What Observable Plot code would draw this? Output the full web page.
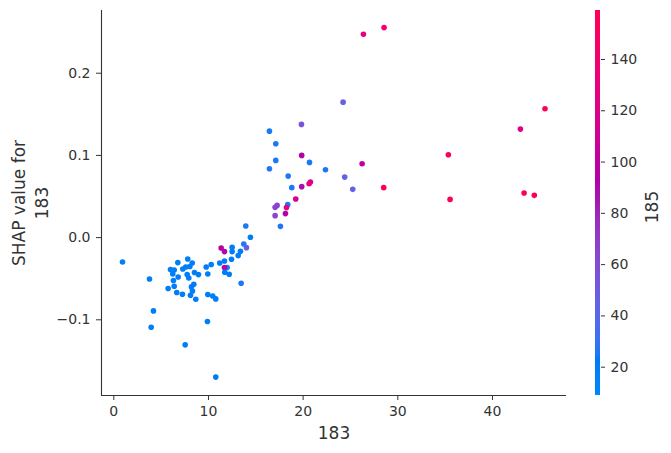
<!DOCTYPE html>
<html>
<head>
<meta charset="utf-8">
<script src="https://cdn.jsdelivr.net/npm/d3@7"></script>
<script src="https://cdn.jsdelivr.net/npm/@observablehq/plot@0.6"></script>
<style>
  html, body { margin: 0; padding: 0; background: #fff; }
  #wrap { position: relative; width: 671px; height: 453px; overflow: hidden; }
  #main, #bar { position: absolute; top: 0; }
  #main { left: 0; }
  #bar { left: 590px; }
</style>
</head>
<body>
<div id="wrap"><div id="main"></div><div id="bar"></div></div>
<script>
// Feature 183 value (x), SHAP value for 183 (y), feature 185 value (colour)
const x183 = [
  13.94, 14.43, 13.73, 14.01, 11.34, 11.69, 12.50, 12.50, 13.38, 13.14,
  12.43, 11.69, 11.19, 11.97, 11.69, 11.72, 12.19, 10.29, 9.76, 9.93,
  7.81, 8.28, 8.03, 7.60, 7.29, 6.76, 5.99, 6.38, 6.23, 6.80,
  7.75, 7.92, 8.52, 8.94, 6.30, 8.45, 8.20, 6.38, 5.74, 8.31,
  6.65, 7.25, 8.10, 8.66, 9.93, 10.45, 10.77, 13.45, 0.92, 3.77,
  4.19, 3.95, 9.89, 7.54, 10.77,
  24.22, 19.82, 16.44, 17.11, 17.11, 16.44, 19.85, 20.67, 22.36, 26.23,
  24.39, 25.24, 28.51, 18.42, 18.80, 19.85, 20.77, 20.63, 19.22, 18.37,
  18.24, 17.25, 17.04, 18.13, 17.04, 17.60,
  28.55, 26.37, 45.55, 42.95, 35.34, 35.52, 43.34, 44.42
];
const shap183 = [
  0.0141, 0.0004, -0.0078, -0.0122, -0.0126, -0.0170, -0.0118, -0.0170, -0.0166, -0.0219,
  -0.0264, -0.0284, -0.0309, -0.0365, -0.0365, -0.0422, -0.0446, -0.0328, -0.0357, -0.0442,
  -0.0260, -0.0309, -0.0352, -0.0357, -0.0382, -0.0304, -0.0389, -0.0394, -0.0442, -0.0479,
  -0.0450, -0.0491, -0.0425, -0.0450, -0.0522, -0.0567, -0.0600, -0.0592, -0.0620, -0.0649,
  -0.0668, -0.0689, -0.0701, -0.0750, -0.0693, -0.0710, -0.0746, -0.0555, -0.0296, -0.0503,
  -0.0892, -0.1090, -0.1020, -0.1305, -0.1697,
  0.1648, 0.1377, 0.1295, 0.1142, 0.0939, 0.0838, 0.1000, 0.0915, 0.0826, 0.0899,
  0.0736, 0.0587, 0.0608, 0.0748, 0.0608, 0.0620, 0.0676, 0.0656, 0.0469, 0.0401,
  0.0365, 0.0392, 0.0368, 0.0292, 0.0267, 0.0137,
  0.2555, 0.2474, 0.1567, 0.1320, 0.1008, 0.0465, 0.0542, 0.0514
];
const v185 = [
  25, 20, 25, 48, 95, 90, 20, 20, 20, 20,
  20, 20, 20, 25, 90, 20, 20, 20, 20, 20,
  20, 20, 20, 20, 20, 20, 20, 20, 20, 20,
  20, 20, 20, 20, 20, 20, 20, 20, 20, 20,
  20, 20, 20, 20, 20, 20, 20, 25, 18, 20,
  20, 20, 20, 20, 22,
  45, 55, 25, 25, 25, 25, 92, 25, 25, 100,
  45, 45, 152, 25, 25, 88, 125, 125, 115, 25,
  125, 65, 65, 95, 65, 25,
  140, 130, 155, 122, 150, 152, 152, 152
];
const xTicks = [0, 10, 20, 30, 40];
const yTicks = [-0.1, 0.0, 0.1, 0.2];
const cTicks = [20, 40, 60, 80, 100, 120, 140];
const xLabel = "183";
const yLabel = "SHAP value for\n183";
const cLabel = "185";

const points = x183.map((x, i) => ({x, y: shap183[i], c: v185[i]}));

const xDomain = [-1.3, 47.82];
const yDomain = [-0.1921, 0.2763];
const cDomain = [8.96, 159.1];

// SHAP red_blue colormap: LCH interpolation blue -> red through darker middle
const shapRedBlue = t => {
  const l = t < 0.5 ? 54 + (40 - 54) * (t / 0.5) : 40 + (54 - 40) * ((t - 0.5) / 0.5);
  const c = 70 + 20 * t;
  const h = 266.93 + 113.39 * t;
  return d3.hcl(h, c, l).formatRgb();
};
const colorScale = {type: "linear", domain: cDomain, interpolate: () => shapRedBlue, clamp: true};

const ink = "#333333";
const font = "DejaVu Sans, sans-serif";

const main = Plot.plot({
  width: 590,
  height: 453,
  marginLeft: 101,
  marginRight: 24,
  marginTop: 10,
  marginBottom: 58,
  style: {fontFamily: font, color: ink, background: "transparent"},
  x: {domain: xDomain},
  y: {domain: yDomain},
  color: colorScale,
  marks: [
    Plot.axisX({ticks: xTicks, tickSize: 5, tickPadding: 6, fontSize: 14, label: null, stroke: ink, fill: ink}),
    Plot.axisY({ticks: yTicks, tickSize: 5, tickPadding: 6, fontSize: 14, label: null, stroke: ink, fill: ink,
      tickFormat: d => d3.format(".1f")(d)}),
    Plot.ruleX([xDomain[0]], {stroke: ink, strokeWidth: 1.1}),
    Plot.ruleY([yDomain[0]], {stroke: ink, strokeWidth: 1.1}),
    Plot.dot(points, {x: "x", y: "y", fill: "c", r: 2.8, stroke: null}),
    Plot.text([xLabel], {text: d => d, frameAnchor: "bottom", textAnchor: "middle", lineAnchor: "top",
      dy: 31.7, fontSize: 17, fill: ink}),
    Plot.text([yLabel], {text: d => d, frameAnchor: "left", textAnchor: "middle", lineAnchor: "middle",
      rotate: -90, dx: -72.5, fontSize: 17, lineHeight: 1.35, fill: ink})
  ]
});
document.getElementById("main").appendChild(main);

// Colour bar
const ramp = d3.range(cDomain[0], cDomain[1], 0.5);
const bar = Plot.plot({
  width: 81,
  height: 453,
  marginLeft: 5,
  marginRight: 71,
  marginTop: 10,
  marginBottom: 58,
  style: {fontFamily: font, color: ink, background: "transparent"},
  x: {domain: [0, 1], axis: null},
  y: {domain: cDomain},
  color: colorScale,
  marks: [
    Plot.rect(ramp, {x1: () => 0, x2: () => 1, y1: d => d, y2: d => Math.min(d + 1, cDomain[1]), fill: d => d}),
    Plot.axisY({anchor: "right", ticks: cTicks, tickSize: 4, tickPadding: 6, fontSize: 14, label: null,
      stroke: ink, fill: ink}),
    Plot.text([cLabel], {text: d => d, frameAnchor: "right", textAnchor: "middle", lineAnchor: "middle",
      rotate: -90, dx: 51.7, dy: 4, fontSize: 17, fill: ink})
  ]
});
document.getElementById("bar").appendChild(bar);
</script>
</body>
</html>
